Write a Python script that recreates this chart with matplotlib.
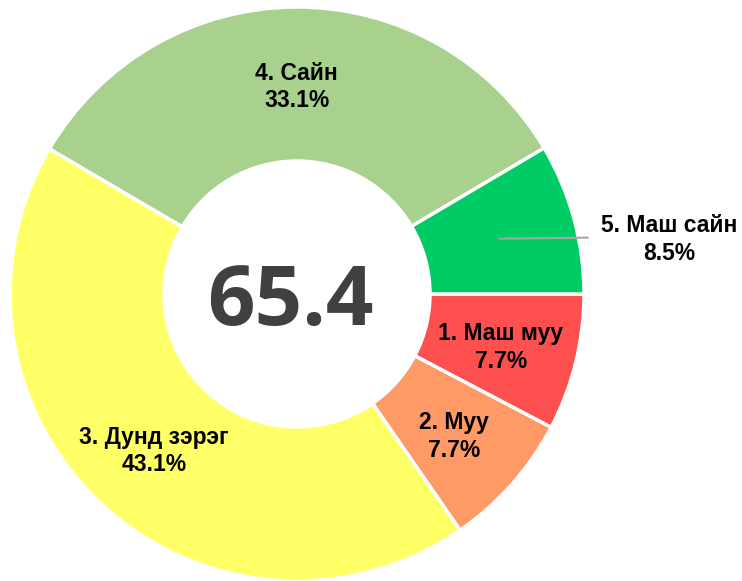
import numpy as np
import matplotlib
matplotlib.use('Agg')
import matplotlib.pyplot as plt

labels = ['1. Маш муу', '2. Муу', '3. Дунд зэрэг', '4. Сайн', '5. Маш сайн']
values = [7.7, 7.7, 43.1, 33.1, 8.5]
colors = ['#FF5050', '#FF9966', '#FFFF66', '#A9D18E', '#00CC66']
center_value = '65.4'

W, H = 742, 581
fig = plt.figure(figsize=(W / 100, H / 100), dpi=100)
ax = fig.add_axes([0, 0, 1, 1])

R = 287
wedges, _ = ax.pie(values, colors=colors, radius=R, startangle=0, counterclock=False,
                   wedgeprops=dict(width=R - 133, edgecolor='white', linewidth=2.5))

# axes in pixel units, pie centre at (297, 294) from top-left
cx, cy = 297, 294
ax.set_xlim(-cx, W - cx)
ax.set_ylim(-(H - cy), cy)
ax.set_aspect('equal')
ax.axis('off')

lab_font = dict(family='Liberation Sans', fontsize=16.5, fontweight='bold', color='black',
                ha='center', va='center', linespacing=1.25)
for w, lab, v in zip(wedges, labels, values):
    ang = np.deg2rad((w.theta1 + w.theta2) / 2)
    r = 210
    x, y = r * np.cos(ang), r * np.sin(ang)
    txt = '%s\n%.1f%%' % (lab, v)
    if lab.startswith('5'):
        # label outside with leader line
        ax.plot([x, x + 88], [y, y + 1], color='#A6A6A6', lw=1.5)
        ax.text(x + 170, y - 1, txt, **lab_font)
    else:
        ax.text(x, y - 3, txt, **lab_font)

ax.text(-7, -31, center_value, family='Open Sans', fontsize=60, fontweight='bold',
        color='#404040', ha='center', va='baseline')

fig.savefig('out.png', dpi=100)
